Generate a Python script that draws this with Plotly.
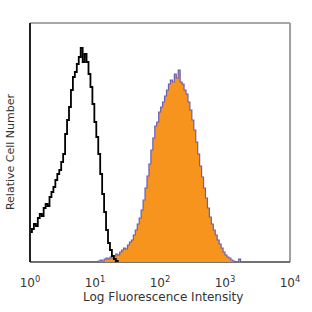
import plotly.graph_objects as go

# Isotype control (black outline) : log10 bin start, relative count
ctrl_log = [0.00, 0.03, 0.06, 0.09, 0.12, 0.15, 0.18, 0.21, 0.24, 0.27, 0.30, 0.33, 0.36, 0.39,
            0.42, 0.45, 0.48, 0.51, 0.54, 0.57, 0.60, 0.63, 0.66, 0.69, 0.72, 0.75, 0.78, 0.81,
            0.84, 0.87, 0.90, 0.93, 0.96, 0.99, 1.02, 1.05, 1.08, 1.11, 1.14, 1.17, 1.20, 1.23,
            1.26, 1.29, 1.32, 1.35]
ctrl_cnt = [30, 33, 38, 36, 44, 48, 46, 54, 58, 56, 65, 70, 75, 82,
            88, 92, 100, 108, 128, 142, 155, 172, 185, 190, 198, 205, 214, 200,
            208, 200, 188, 175, 158, 140, 125, 108, 88, 68, 50, 32, 19, 12,
            6, 3, 1, 0]

# Stained sample (orange filled)
stain_log = [0.00, 1.02, 1.05, 1.08, 1.11, 1.14, 1.17, 1.20, 1.23, 1.26, 1.29, 1.32, 1.35, 1.38,
             1.41, 1.44, 1.47, 1.50, 1.53, 1.56, 1.59, 1.62, 1.65, 1.68, 1.71, 1.74, 1.77,
             1.80, 1.83, 1.86, 1.89, 1.92, 1.95, 1.98, 2.01, 2.04, 2.07, 2.10, 2.13, 2.16,
             2.19, 2.22, 2.25, 2.28, 2.31, 2.34, 2.37, 2.40, 2.43, 2.46, 2.49, 2.52, 2.55,
             2.58, 2.61, 2.64, 2.67, 2.70, 2.73, 2.76, 2.79, 2.82, 2.85, 2.88, 2.91, 2.94,
             2.97, 3.00, 3.03, 3.06, 3.09, 3.12, 3.15, 3.18, 3.21, 3.24]
stain_cnt = [0, 0, 1, 2, 1, 3, 4, 3, 5, 4, 6, 8, 7, 10,
             12, 14, 13, 17, 20, 22, 27, 32, 38, 44, 52, 62, 74,
             86, 98, 112, 124, 136, 140, 150, 155, 160, 166, 172, 178, 182,
             180, 188, 184, 192, 180, 178, 172, 168, 160, 152, 142, 132, 120,
             108, 96, 85, 74, 64, 54, 45, 38, 32, 27, 22, 18, 14,
             10, 7, 5, 4, 2, 1, 0, 0, 3, 0]

tick_vals = [1, 10, 100, 1000, 10000]
tick_text = ["10<sup>0</sup>", "10<sup>1</sup>", "10<sup>2</sup>", "10<sup>3</sup>", "10<sup>4</sup>"]

fig = go.Figure()
fig.add_trace(go.Scatter(
    x=[10 ** v for v in stain_log], y=stain_cnt, mode="lines",
    line=dict(shape="hv", color="#6a5fb8", width=1.2),
    fill="tozeroy", fillcolor="#f7941d", hoverinfo="skip"))
fig.add_trace(go.Scatter(
    x=[10 ** v for v in ctrl_log], y=ctrl_cnt, mode="lines",
    line=dict(shape="hv", color="black", width=1.8), hoverinfo="skip"))

font = "DejaVu Sans"
fig.update_layout(
    width=312, height=312,
    margin=dict(l=30, r=16, t=23, b=50),
    paper_bgcolor="white", plot_bgcolor="rgba(0,0,0,0)",
    showlegend=False,
    xaxis=dict(type="log", range=[0, 4], showgrid=False, zeroline=False, showline=False,
               tickvals=tick_vals, ticktext=tick_text, ticks="",
               ticklabelstandoff=12,
               tickfont=dict(family=font, size=12, color="#333333")),
    yaxis=dict(range=[0, 239], showgrid=False, zeroline=False, showline=False,
               showticklabels=False, ticks=""),
    shapes=[
        dict(type="line", xref="paper", yref="paper", x0=0, x1=1, y0=1, y1=1,
             line=dict(color="#a8a8a8", width=2), layer="below"),
        dict(type="line", xref="paper", yref="paper", x0=1, x1=1, y0=0, y1=1,
             line=dict(color="#a0a0a0", width=2), layer="below"),
        dict(type="line", xref="paper", yref="paper", x0=0, x1=1, y0=0, y1=0,
             line=dict(color="#444444", width=1.5), layer="below"),
        dict(type="line", xref="paper", yref="paper", x0=0, x1=0, y0=0, y1=1,
             line=dict(color="#222222", width=2), layer="above"),
    ],
    annotations=[
        dict(text="Log Fluorescence Intensity", xref="paper", yref="paper",
             x=0.51, y=0, yshift=-35, xanchor="center", yanchor="middle",
             showarrow=False, font=dict(family=font, size=12, color="#333333")),
        dict(text="Relative Cell Number", xref="paper", yref="paper",
             x=0, xshift=-20, y=0.46, xanchor="center", yanchor="middle", textangle=-90,
             showarrow=False, font=dict(family=font, size=11, color="#333333")),
    ],
)

fig.write_html("out.html")
